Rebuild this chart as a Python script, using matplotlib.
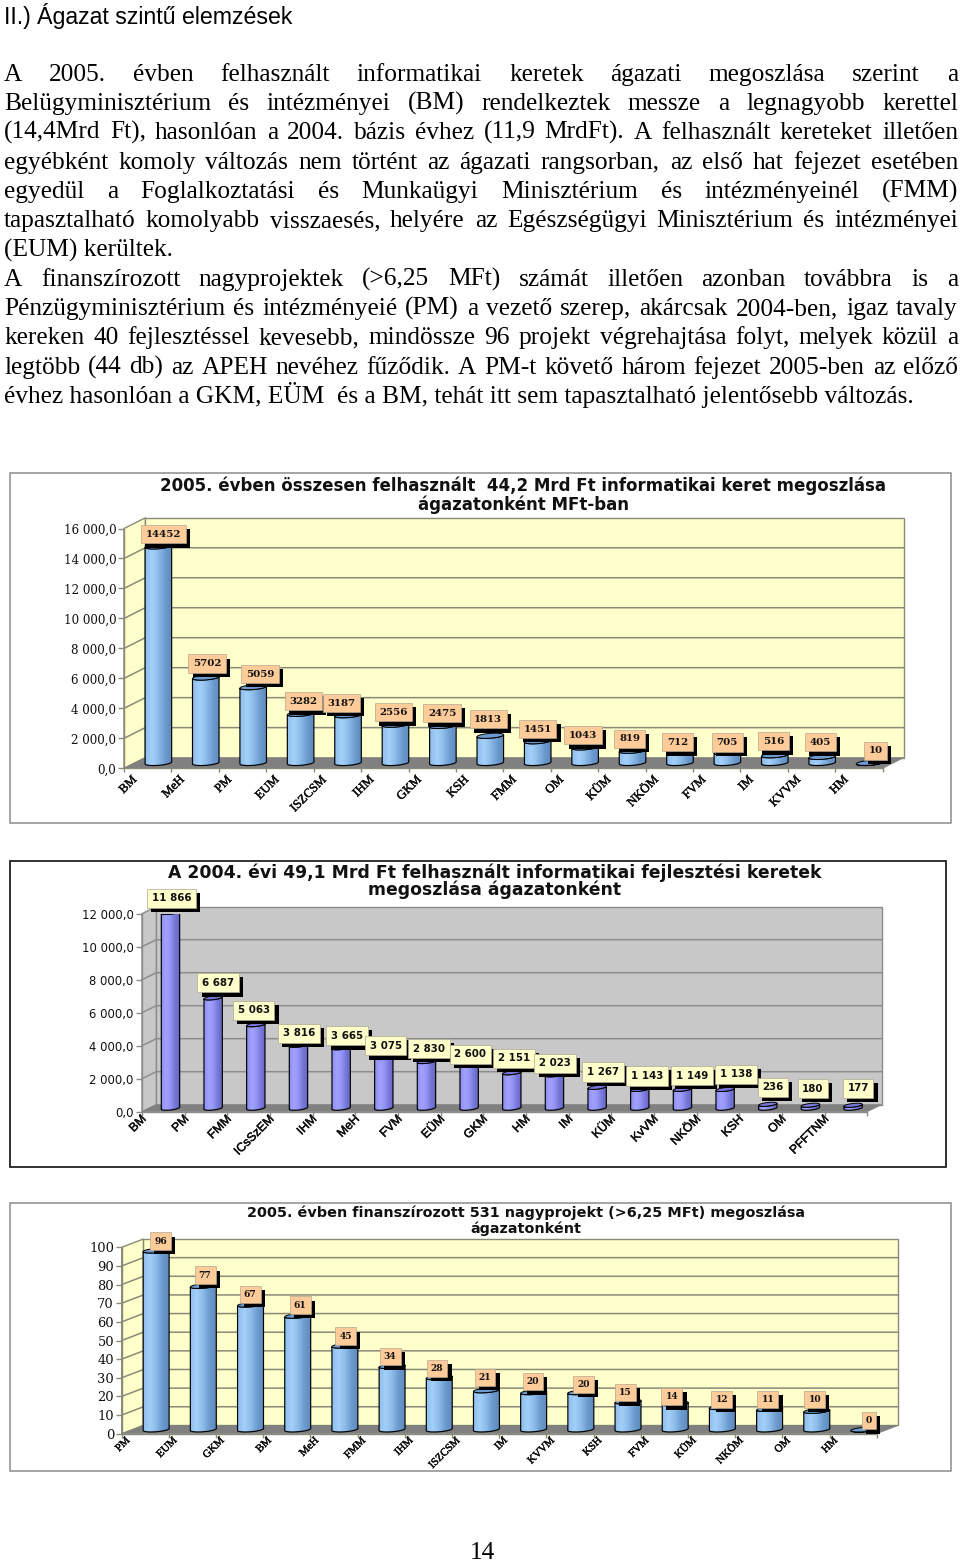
import numpy as np
import matplotlib
matplotlib.use("Agg")
import matplotlib.pyplot as plt
import matplotlib.patheffects as pe
from matplotlib.colors import LinearSegmentedColormap
from matplotlib.patches import Polygon, Rectangle
from matplotlib.transforms import ScaledTranslation

W, H = 960, 1562

# page text
heading = "II.) Ágazat szintű elemzések"
para_lines = [
    "A 2005. évben felhasznált informatikai keretek ágazati megoszlása szerint a",
    "Belügyminisztérium és intézményei (BM) rendelkeztek messze a legnagyobb kerettel",
    "(14,4Mrd Ft), hasonlóan a 2004. bázis évhez (11,9 MrdFt). A felhasznált kereteket illetően",
    "egyébként komoly változás nem történt az ágazati rangsorban, az első hat fejezet esetében",
    "egyedül a Foglalkoztatási és Munkaügyi Minisztérium és intézményeinél (FMM)",
    "tapasztalható komolyabb visszaesés, helyére az Egészségügyi Minisztérium és intézményei",
    "(EUM) kerültek.",
    "A finanszírozott nagyprojektek (>6,25 MFt) számát illetően azonban továbbra is a",
    "Pénzügyminisztérium és intézményeié (PM) a vezető szerep, akárcsak 2004-ben, igaz tavaly",
    "kereken 40 fejlesztéssel kevesebb, mindössze 96 projekt végrehajtása folyt, melyek közül a",
    "legtöbb (44 db) az APEH nevéhez fűződik. A PM-t követő három fejezet 2005-ben az előző",
    "évhez hasonlóan a GKM, EÜM  és a BM, tehát itt sem tapasztalható jelentősebb változás.",
]
para_y = [81, 110, 139, 169, 198, 227, 257, 286, 315, 344, 374, 403]
not_justified = [6, 11]
page_number = "14"

# chart 1
cats1 = ["BM", "MeH", "PM", "EUM", "ISZCSM", "IHM", "GKM", "KSH", "FMM", "OM",
         "KÜM", "NKÖM", "FVM", "IM", "KVVM", "HM"]
vals1 = [14452, 5702, 5059, 3282, 3187, 2556, 2475, 1813, 1451, 1043, 819, 712, 705, 516, 405, 10]
text1 = [str(v) for v in vals1]
ticks1 = [0, 2000, 4000, 6000, 8000, 10000, 12000, 14000, 16000]
ticklabels1 = ["0,0", "2 000,0", "4 000,0", "6 000,0", "8 000,0", "10 000,0", "12 000,0", "14 000,0", "16 000,0"]
title1 = ["2005. évben összesen felhasznált  44,2 Mrd Ft informatikai keret megoszlása", "ágazatonként MFt-ban"]
# where the value boxes sit relative to the bar tops, in pixels
shift1 = [(5, -12), (1.4, -14), (7, -13), (2.6, -12.5), (-6.8, -12), (-2, -12.4), (-0.6, -12.6), (-2, -16.5),
          (0, -12), (-2, -12), (-3, -12), (-2.6, -10), (0, -10), (-1.4, -14), (-1.8, -14.6), (6, -12)]

# chart 2
cats2 = ["BM", "PM", "FMM", "ICsSzEM", "IHM", "MeH", "FVM", "EÜM", "GKM", "HM", "IM", "KÜM",
         "KvVM", "NKÖM", "KSH", "OM", "PFFTNM"]
vals2 = [11866, 6687, 5063, 3816, 3665, 3075, 2830, 2600, 2151, 2023, 1267, 1143, 1149, 1138, 236, 180, 177]
text2 = ["11 866", "6 687", "5 063", "3 816", "3 665", "3 075", "2 830", "2 600", "2 151", "2 023",
         "1 267", "1 143", "1 149", "1 138", "236", "180", "177"]
ticks2 = [0, 2000, 4000, 6000, 8000, 10000, 12000]
ticklabels2 = ["0,0", "2 000,0", "4 000,0", "6 000,0", "8 000,0", "10 000,0", "12 000,0"]
title2 = ["A 2004. évi 49,1 Mrd Ft felhasznált informatikai fejlesztési keretek", "megoszlása ágazatonként"]
shift2 = [(1, -14), (5, -15), (-2, -14.5), (0.5, -12), (6, -12), (2, -11.6), (2.5, -13), (1, -11), (2, -14.5),
          (0.5, -11.6), (6, -15.4), (7, -13.4), (9.5, -13.7), (11, -15), (5, -17), (2.5, -16.7), (5, -16.8)]

# chart 3
cats3 = ["PM", "EUM", "GKM", "BM", "MeH", "FMM", "IHM", "ISZCSM", "IM", "KVVM", "KSH", "FVM",
         "KÜM", "NKÖM", "OM", "HM"]
vals3 = [96, 77, 67, 61, 45, 34, 28, 21, 20, 20, 15, 14, 12, 11, 10, 0]
text3 = [str(v) for v in vals3]
ticks3 = [0, 10, 20, 30, 40, 50, 60, 70, 80, 90, 100]
ticklabels3 = [str(t) for t in ticks3]
title3 = ["2005. évben finanszírozott 531 nagyprojekt (>6,25 MFt) megoszlása", "ágazatonként"]
shift3 = [(4.6, -9.6), (1.7, -11), (-0.5, -10.3), (2.3, -10.8), (1, -9.6), (-2, -9.4), (-2.3, -9), (-1.5, -13),
          (-0.7, -10.5), (3, -8), (-3, -8.8), (-3.3, -6.7), (-0.5, -7.8), (-1.7, -9.7), (-2, -11.6), (5, -8.8)]

plt.rcParams["font.family"] = "Liberation Serif"
fig = plt.figure(figsize=(W / 100, H / 100), dpi=100, facecolor="white")

page = fig.add_axes([0, 0, 1, 1], zorder=0)
page.set_xlim(0, W)
page.set_ylim(H, 0)
page.axis("off")
renderer = fig.canvas.get_renderer()
BODY = 18.3


def draw_line(line, y, justify):
    words = line.split()
    if not justify:
        page.text(4, y, line, fontsize=BODY, va="baseline", ha="left")
        return
    items = [page.text(0, y, w, fontsize=BODY, va="baseline", ha="left") for w in words]
    widths = [t.get_window_extent(renderer).width for t in items]
    gap = (958 - 4 - sum(widths)) / (len(words) - 1)
    x = 4
    for t, w in zip(items, widths):
        t.set_x(x)
        x += w + gap


page.text(4, 24, heading, fontsize=16.7, family="Liberation Sans", va="baseline", ha="left")
for i, line in enumerate(para_lines):
    draw_line(line, para_y[i], i not in not_justified)
page.text(482, 1559, page_number, fontsize=BODY, va="baseline", ha="center")


def chart(frame, plane, depth, cats, vals, texts, ticks, ticklabels, title, title_x, title_y, shifts, style):
    x0, x1, y_bottom, y_top = plane
    fx0, fy0, fx1, fy1 = frame
    page.add_patch(Rectangle((fx0, fy0), fx1 - fx0, fy1 - fy0, fc="white",
                             ec=style["frame"], lw=style["frame_lw"]))
    for line, ty in zip(title, title_y):
        page.text(title_x, ty, line, fontsize=style["title_size"], family="DejaVu Sans",
                  weight="bold", ha="center", va="center", color="#111111")

    ax = fig.add_axes([x0 / W, 1 - y_bottom / H, (x1 - x0) / W, (y_bottom - y_top) / H], zorder=2)
    ax.patch.set_alpha(0)
    n = len(cats)
    ymax = ticks[-1]
    ax.set_xlim(0, n)
    ax.set_ylim(0, ymax)
    # pixels to data units
    ux = n / (x1 - x0)
    uy = ymax / (y_bottom - y_top)
    dx = depth[0] * ux
    dy = depth[1] * uy
    grid = style["grid"]

    ax.add_patch(Polygon([(dx, dy), (n + dx, dy), (n + dx, ymax + dy), (dx, ymax + dy)], fc=style["wall"],
                         ec=grid, lw=1, clip_on=False, zorder=1))
    ax.add_patch(Polygon([(0, 0), (dx, dy), (dx, ymax + dy), (0, ymax)], fc=style["wall"], ec=grid, lw=1,
                         clip_on=False, zorder=1))
    ax.add_patch(Polygon([(0, 0), (n, 0), (n + dx, dy), (dx, dy)], fc="#808080", ec="#808080", lw=0.5,
                         clip_on=False, zorder=1.5))
    for t in ticks[1:-1]:
        ax.plot([0, dx, n + dx], [t, t + dy, t + dy], color=grid, lw=1.1, clip_on=False, zorder=1.2)

    cmap = LinearSegmentedColormap.from_list("cyl", style["bar"])
    gradient = np.linspace(0, 1, 64).reshape(1, -1)
    a = style["bar_width"] / 2
    b = style["ell"] * uy
    tilt = 1.0 * uy
    t_low = np.linspace(np.pi, 2 * np.pi, 30)
    t_all = np.linspace(0, 2 * np.pi, 60)
    for i, v in enumerate(vals):
        cx = i + 0.5 + dx / 2
        base = dy / 2
        top = base + v
        low_x = cx + a * np.cos(t_low)
        low_y = base + b * np.sin(t_low) + tilt * np.cos(t_low)
        up_x = cx + a * np.cos(t_low[::-1])
        up_y = top + b * np.sin(t_low[::-1]) + tilt * np.cos(t_low[::-1])
        body = Polygon(np.column_stack([np.r_[low_x, up_x], np.r_[low_y, up_y]]), fc="none", ec="black",
                       lw=0.85, zorder=3.2)
        ax.add_patch(body)
        im = ax.imshow(gradient, cmap=cmap, aspect="auto", zorder=3,
                       extent=[cx - a, cx + a, base - 2 * b, top + 2 * b])
        im.set_clip_path(body)
        ax.add_patch(Polygon(np.column_stack([cx + a * np.cos(t_all),
                                              top + b * np.sin(t_all) + tilt * np.cos(t_all)]),
                             fc=style["cap"], ec="black", lw=0.7, zorder=3.4))
        ann = ax.annotate(texts[i], xy=(cx, top), xytext=(shifts[i][0], -shifts[i][1]), textcoords="offset pixels",
                          ha="center", va="center", fontsize=style["label_size"], family=style["label_font"],
                          weight="bold", color="#111111", annotation_clip=False, zorder=5,
                          bbox=dict(boxstyle="square,pad=0.45", fc=style["label_bg"], ec="#B0A890", lw=0.5))
        ann.get_bbox_patch().set_path_effects([
            pe.SimplePatchShadow(offset=(3, -3), shadow_rgbFace="black", alpha=1), pe.Normal()])
    ax.set_xlim(0, n)
    ax.set_ylim(0, ymax)

    for side in ["top", "right"]:
        ax.spines[side].set_visible(False)
    for side in ["left", "bottom"]:
        ax.spines[side].set_color(grid)
        ax.spines[side].set_linewidth(1)
    ax.set_yticks(ticks, ticklabels)
    ax.tick_params(axis="y", length=4, width=1, color=grid, pad=style["ypad"], labelsize=style["tick_size"],
                   labelcolor="#111111")
    for lab in ax.get_yticklabels():
        lab.set_family(style["tick_font"])
    ax.set_xticks(np.arange(n + 1), minor=True)
    ax.set_xticks(np.arange(n) + 0.5, cats)
    ax.tick_params(axis="x", which="minor", length=3, width=1, color=grid)
    ax.tick_params(axis="x", which="major", length=0, pad=style["xpad"])
    shift = ScaledTranslation(style["xshift"] / 100, 0, fig.dpi_scale_trans)
    for lab in ax.get_xticklabels():
        lab.set(rotation=45, ha="right", va="top", rotation_mode="anchor", family=style["cat_font"],
                fontsize=style["cat_size"], color="#111111")
        lab.set_transform(lab.get_transform() + shift)
        lab.set_path_effects([pe.withStroke(linewidth=0.35, foreground="#111111")])
    return ax


blue = ["#8DBEEE", "#A4D0F8", "#8DBCEA", "#6C9BCF", "#5F8BBD"]
violet = ["#8C8CF0", "#A2A2FF", "#9494F4", "#7676D8", "#6666C0"]

style1 = dict(frame="#8C8C8C", frame_lw=1.1, title_size=12.0, grid="#8A8A78", wall="#FFFFCC",
              bar=blue, cap="#6C9BCF", bar_width=0.56, ell=2.4, label_size=7.4, label_font="DejaVu Serif",
              label_bg="#FFCC99", ypad=1.5, tick_size=8.6, tick_font="DejaVu Serif", xpad=4, xshift=-17,
              cat_font="Liberation Serif", cat_size=9.0)
style2 = dict(frame="#222222", frame_lw=1.3, title_size=12.4, grid="#8C8C8C", wall="#C8C8C8",
              bar=violet, cap="#7676D8", bar_width=0.43, ell=1.8, label_size=7.4, label_font="DejaVu Sans",
              label_bg="#FFFFCC", ypad=2, tick_size=8.4, tick_font="DejaVu Sans", xpad=1, xshift=-23,
              cat_font="Liberation Sans", cat_size=8.8)
style3 = dict(frame="#8C8C8C", frame_lw=1.1, title_size=10.4, grid="#8A8A78", wall="#FFFFCC",
              bar=blue, cap="#6C9BCF", bar_width=0.55, ell=2.2, label_size=6.6, label_font="DejaVu Serif",
              label_bg="#FFCC99", ypad=1.5, tick_size=9.4, tick_font="DejaVu Serif", xpad=1.5, xshift=-20,
              cat_font="Liberation Serif", cat_size=7.8)

chart((9.5, 473, 951, 823), (124, 882.7, 768.3, 528.5), (21.3, 10.7), cats1, vals1, text1, ticks1, ticklabels1,
      title1, 523, (486, 505), shift1, style1)
chart((10, 861, 945.5, 1167), (142, 867.3, 1111.7, 913.7), (14.3, 7), cats2, vals2, text2, ticks2, ticklabels2,
      title2, 495, (873, 890), shift2, style2)
chart((9.5, 1203, 951, 1471), (121.7, 876.7, 1433.7, 1247.3), (21.7, 8.3), cats3, vals3, text3, ticks3, ticklabels3,
      title3, 526, (1213, 1229), shift3, style3)

fig.savefig("out.png", dpi=100)
